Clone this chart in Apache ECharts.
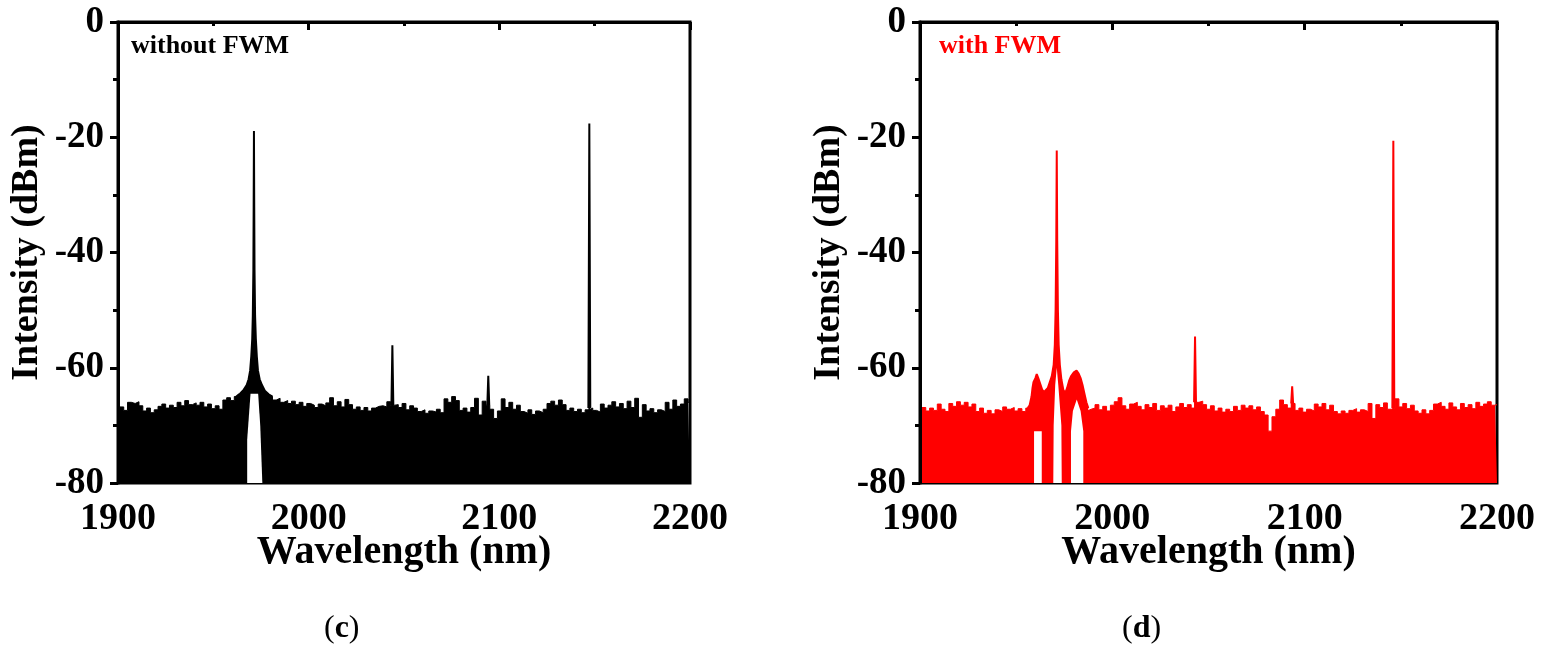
<!DOCTYPE html>
<html>
<head>
<meta charset="utf-8">
<script src="https://cdn.jsdelivr.net/npm/echarts@6/dist/echarts.min.js"></script>
<style>
  html, body { margin: 0; padding: 0; background: #fff; }
  #chart { width: 1544px; height: 656px; }
</style>
</head>
<body>
<div id="chart"></div>
<script>
// noise floor, one value every 2 nm from 1900 to 2200
const wlStart = 1900, wlStep = 2;

const noiseC = [
  -67.2, -66.8, -67.4, -66.0, -66.2, -65.9, -66.6, -67.5, -67.0, -67.8,
  -67.3, -66.7, -66.3, -67.0, -66.5, -66.9, -66.0, -66.6, -65.7, -66.4,
  -66.1, -66.5, -66.0, -66.8, -66.3, -67.1, -66.6, -67.2, -65.6, -65.2,
  -65.7, -65.0, -64.6, -64.5, -65.0, -65.0, -65.0, -65.0, -65.0, -64.6,
  -65.0, -65.6, -65.3, -66.0, -65.7, -66.2, -65.8, -66.4, -66.0, -66.7,
  -66.2, -66.5, -66.9, -66.3, -66.6, -66.1, -65.2, -66.6, -65.9, -66.8,
  -65.5, -66.4, -67.2, -66.8, -67.4, -66.9, -67.5, -67.0, -66.7, -66.6,
  -66.8, -65.9, -66.5, -66.4, -66.9, -66.2, -67.3, -66.6, -67.0, -67.6,
  -67.3, -67.9, -67.5, -67.7, -67.2, -67.8, -65.4, -66.0, -65.0, -65.7,
  -67.4, -67.0, -67.7, -66.9, -65.3, -68.2, -65.8, -66.5, -67.2, -68.8,
  -67.5, -65.4, -66.9, -66.0, -67.2, -66.5, -67.6, -67.9, -67.3, -68.1,
  -67.5, -67.8, -67.2, -66.2, -65.8, -66.5, -65.6, -66.4, -67.4, -67.0,
  -67.6, -67.2, -67.8, -67.3, -67.0, -67.4, -67.7, -66.3, -67.0, -66.5,
  -65.9, -66.8, -66.2, -67.1, -65.8, -66.9, -65.3, -68.6, -66.4, -67.5,
  -67.1, -67.8, -67.3, -67.6, -66.0, -67.2, -65.6, -66.7, -66.3, -65.4,
  -66.0
];

const noiseD = [
  -67.3, -66.9, -67.5, -67.0, -67.4, -66.3, -67.2, -67.6, -66.2, -66.7,
  -65.9, -66.5, -66.0, -66.8, -66.3, -67.6, -67.0, -67.9, -67.4, -68.0,
  -67.3, -67.6, -66.8, -67.2, -66.9, -67.5, -67.1, -67.6, -67.0, -67.2,
  -67.5, -67.5, -67.5, -67.5, -67.5, -67.5, -67.5, -67.5, -67.5, -67.5,
  -67.5, -67.5, -67.5, -67.5, -67.2, -67.0, -66.4, -67.3, -66.7, -67.5,
  -66.5, -65.9, -65.2, -66.6, -67.2, -66.3, -66.0, -66.7, -67.3, -66.4,
  -66.9, -66.2, -67.4, -66.6, -67.0, -66.5, -67.6, -66.8, -66.2, -66.9,
  -66.4, -67.0, -66.0, -65.8, -66.4, -67.2, -66.6, -67.5, -67.0, -67.7,
  -67.2, -67.6, -66.7, -67.4, -66.5, -67.0, -66.6, -67.3, -66.8, -67.6,
  -68.2, -71.0, -68.5, -67.2, -65.6, -66.4, -67.0, -66.2, -67.4, -67.0,
  -67.7, -67.2, -67.5, -66.3, -66.8, -66.2, -67.3, -66.5, -67.6, -68.0,
  -67.5, -67.9, -67.4, -67.1, -67.7, -67.3, -67.6, -66.2, -68.8, -66.4,
  -66.9, -66.1, -67.2, -67.0, -65.4, -66.8, -66.2, -67.1, -66.5, -67.5,
  -67.9, -67.3, -68.0, -67.4, -66.3, -66.0, -66.7, -67.2, -66.1, -66.8,
  -67.3, -66.2, -66.9, -66.4, -67.1, -66.0, -66.7, -66.3, -65.9, -66.5,
  -66.4
];

// pump line with its skirts [nm, dBm]
const pumpC = [
  [1962.0, -65.0], [1964.0, -64.5], [1966.0, -63.8], [1967.5, -63.0], [1968.5, -62.0],
  [1969.3, -60.5], [1969.9, -58.0], [1970.4, -55.0], [1970.7, -51.0], [1971.0, -43.0],
  [1971.15, -32.0], [1971.3, -18.9], [1971.45, -32.0], [1971.6, -43.0], [1971.9, -51.0],
  [1972.3, -55.0], [1972.8, -58.0], [1973.4, -60.5], [1974.3, -62.0], [1975.5, -63.0],
  [1977.0, -64.0], [1979.0, -64.6], [1981.0, -65.0]
];
const linesC = [
  [[2043.4, -66.5], [2043.9, -56.1], [2044.4, -66.5]],
  [[2093.7, -66.5], [2094.2, -61.4], [2094.7, -66.5]],
  [[2146.7, -67.0], [2147.2, -17.6], [2147.7, -67.0]]
];
const gapC = [
  [1967.75, -80], [1967.75, -72.5], [1968.6, -72.5], [1969.5, -64.5],
  [1973.5, -64.5], [1974.6, -70.0], [1975.7, -80]
];

// pump line with the two FWM side lobes
const pumpD = [
  [1956.0, -67.0], [1957.0, -66.5], [1958.0, -65.0], [1958.5, -63.5], [1959.0, -62.5],
  [1960.0, -61.8], [1960.7, -61.1], [1961.5, -61.8], [1962.5, -62.8], [1963.5, -63.8],
  [1964.5, -64.2], [1965.5, -64.4], [1966.5, -63.5], [1967.5, -62.5], [1968.5, -61.5],
  [1969.5, -59.5], [1970.1, -56.0], [1970.5, -50.0], [1970.85, -38.0], [1971.1, -22.3],
  [1971.35, -38.0], [1971.7, -50.0], [1972.1, -56.0], [1972.7, -59.5], [1973.5, -62.0],
  [1974.5, -63.8], [1975.5, -64.4], [1976.5, -63.5], [1977.5, -62.3], [1978.5, -61.5],
  [1980.0, -60.8], [1981.4, -60.5], [1982.5, -61.0], [1983.5, -61.8], [1984.5, -63.0],
  [1985.5, -64.5], [1986.5, -66.0], [1987.5, -67.0]
];
const linesD = [
  [[2042.5, -66.0], [2043.0, -54.6], [2043.5, -66.0]],
  [[2093.0, -66.2], [2093.5, -63.2], [2094.0, -66.2]],
  [[2145.6, -67.0], [2146.1, -20.6], [2146.6, -67.0]]
];
const gapD = [
  [1959.3, -80], [1959.3, -71.0], [1963.3, -71.0], [1963.3, -80],
  [1969.3, -80], [1969.5, -70.0], [1970.3, -63.0], [1971.1, -60.0], [1971.9, -63.0],
  [1973.5, -70.0], [1973.7, -80],
  [1978.5, -80], [1978.5, -71.0], [1979.5, -67.5], [1981.5, -65.5], [1983.5, -67.5],
  [1984.9, -71.0], [1984.9, -80]
];

const xTicks = [1900, 2000, 2100, 2200];
const yTicks = [0, -20, -40, -60, -80];

const serif = '"Liberation Serif", "Times New Roman", serif';

function toPairs(vals) {
  return vals.map((v, i) => [wlStart + i * wlStep, v]);
}

function panelSeries(idx, color, noise, pump, lines, gap) {
  const base = {
    type: 'line',
    xAxisIndex: idx,
    yAxisIndex: idx,
    symbol: 'none',
    silent: true,
    animation: false
  };
  const out = [];
  out.push(Object.assign({}, base, {
    data: toPairs(noise),
    step: 'middle',
    z: 2,
    lineStyle: { color: color, width: 1 },
    areaStyle: { color: color, opacity: 1, origin: 'start' }
  }));
  out.push(Object.assign({}, base, {
    data: pump,
    z: 3,
    lineStyle: { color: color, width: 2 },
    areaStyle: { color: color, opacity: 1, origin: 'start' }
  }));
  lines.forEach(l => {
    out.push(Object.assign({}, base, {
      data: l,
      z: 3,
      lineStyle: { color: color, width: 2 },
      areaStyle: { color: color, opacity: 1, origin: 'start' }
    }));
  });
  out.push(Object.assign({}, base, {
    data: gap,
    z: 4,
    lineStyle: { width: 0 },
    areaStyle: { color: '#fff', opacity: 1, origin: 'start' }
  }));
  return out;
}

function xAxisFor(idx) {
  return {
    type: 'value',
    gridIndex: idx,
    min: 1900,
    max: 2200,
    interval: 100,
    name: 'Wavelength (nm)',
    nameLocation: 'middle',
    nameGap: 50,
    nameMoveOverlap: false,
    nameTextStyle: { fontFamily: serif, fontWeight: 'bold', fontSize: 40, color: '#000' },
    axisLine: { lineStyle: { color: '#000', width: 3 } },
    axisTick: { length: 8, lineStyle: { width: 3, color: '#000' } },
    minorTick: { show: true, splitNumber: 2, length: 4, lineStyle: { width: 3, color: '#000' } },
    splitLine: { show: false },
    axisLabel: {
      margin: 17,
      fontFamily: serif, fontWeight: 'bold', fontSize: 38, color: '#000',
      formatter: v => xTicks.includes(v) ? String(v) : ''
    }
  };
}

function yAxisFor(idx) {
  return {
    type: 'value',
    gridIndex: idx,
    min: -80,
    max: 0,
    interval: 20,
    z: 5,
    name: 'Intensity (dBm)',
    nameLocation: 'middle',
    nameGap: 72,
    nameTextStyle: { fontFamily: serif, fontWeight: 'bold', fontSize: 38, color: '#000' },
    axisLine: { lineStyle: { color: '#000', width: 3 } },
    axisTick: { length: 8, lineStyle: { width: 3, color: '#000' } },
    minorTick: { show: true, splitNumber: 2, length: 5, lineStyle: { width: 3, color: '#000' } },
    splitLine: { show: false },
    axisLabel: {
      margin: 14,
      fontFamily: serif, fontWeight: 'bold', fontSize: 37, color: '#000',
      formatter: v => yTicks.includes(v) ? String(v) : ''
    }
  };
}

const chart = echarts.init(document.getElementById('chart'), null, { renderer: 'canvas' });

chart.setOption({
  animation: false,
  backgroundColor: '#fff',
  grid: [
    { left: 118, top: 22, width: 572, height: 461, show: true, borderColor: '#000', borderWidth: 3 },
    { left: 920, top: 22, width: 577, height: 461, show: true, borderColor: '#000', borderWidth: 3 }
  ],
  xAxis: [xAxisFor(0), xAxisFor(1)],
  yAxis: [yAxisFor(0), yAxisFor(1)],
  graphic: [
    { type: 'text', left: 131, top: 33, z: 10,
      style: { text: 'without FWM', fontFamily: serif, fontWeight: 'bold', fontSize: 26, fill: '#000' } },
    { type: 'text', left: 939, top: 33, z: 10,
      style: { text: 'with FWM', fontFamily: serif, fontWeight: 'bold', fontSize: 26, fill: '#ff0000' } },
    { type: 'text', left: 324, top: 613,
      style: { text: '{p|(}{b|c}{p|)}', rich: {
        p: { fontFamily: serif, fontSize: 32, fill: '#000' },
        b: { fontFamily: serif, fontSize: 32, fontWeight: 'bold', fill: '#000' } } } },
    { type: 'text', left: 1122, top: 613,
      style: { text: '{p|(}{b|d}{p|)}', rich: {
        p: { fontFamily: serif, fontSize: 32, fill: '#000' },
        b: { fontFamily: serif, fontSize: 32, fontWeight: 'bold', fill: '#000' } } } }
  ],
  series: [].concat(
    panelSeries(0, '#000000', noiseC, pumpC, linesC, gapC),
    panelSeries(1, '#ff0000', noiseD, pumpD, linesD, gapD)
  )
});
</script>
</body>
</html>
